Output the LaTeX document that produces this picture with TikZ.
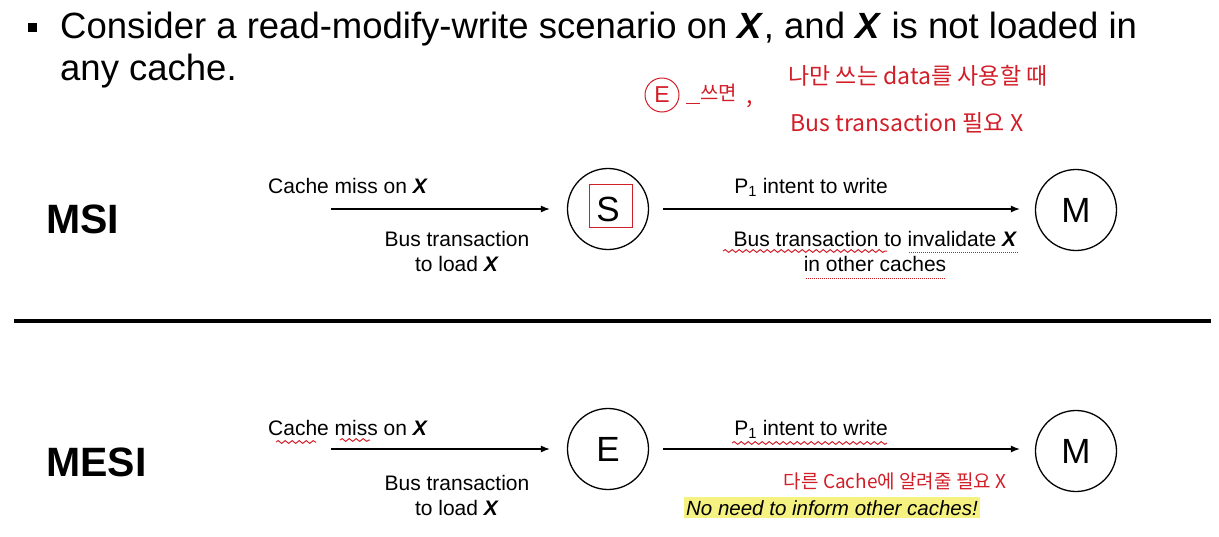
\documentclass[tikz,border=0pt]{standalone}
\usepackage{fontspec}
\setmainfont{Liberation Sans}
\newfontfamily\kor{Noto Sans CJK KR}
\usetikzlibrary{shapes.geometric,arrows.meta,decorations.pathmorphing}
\definecolor{ink}{RGB}{210,30,40}
\definecolor{hilite}{RGB}{245,242,130}
\newcommand{\bX}{\textbf{\textit{X}}}
\begin{document}
\begin{tikzpicture}[x=1pt,y=-1pt,
  state/.style={draw, line width=1.3pt, circle, inner sep=0pt, minimum size=81pt, font=\fontsize{35}{40}\selectfont},
  lbl/.style={font=\fontsize{21}{25}\selectfont, inner sep=0pt},
  trans/.style={-{Latex[length=9pt,width=7pt]}, line width=1.2pt},
  inkline/.style={draw=ink, line width=1pt},
  wavy/.style={ink, line width=1pt, decorate, decoration={snake, amplitude=1.4pt, segment length=7pt}},
  note/.style={text=ink, inner sep=0pt, font=\kor\fontsize{23}{27}\selectfont},
]
\useasboundingbox (0,0) rectangle (1219,536);
% title
\node[fill, minimum size=9pt, inner sep=0pt] (bul) at (32,27) {};
\node[anchor=base west, inner sep=0pt, font=\fontsize{36.5}{42}\selectfont] (t1) at (60,38) {Consider a read-modify-write scenario on \bX, and \bX\ is not loaded in};
\node[anchor=base west, inner sep=0pt, font=\fontsize{36.5}{42}\selectfont] (t2) at (60,80) {any cache.};
% handwritten notes (top)
\node[draw=ink, line width=1pt, circle, minimum size=34pt, inner sep=0pt, text=ink, font=\fontsize{23}{27}\selectfont] (ecirc) at (662,95) {E};
\node[note, anchor=base west, font=\kor\fontsize{20}{24}\selectfont] (n1) at (700,100) {쓰면};
\draw[inkline] (686,103) -- (700,103);
\node[note, anchor=base] (n2) at (750,103) {,};
\node[note, anchor=base] (n3) at (918,84) {나만 쓰는 data를 사용할 때};
\node[note, anchor=base] (n4) at (907,131) {Bus transaction 필요 X};
% section labels
\node[anchor=base west, inner sep=0pt, font=\bfseries\fontsize{41}{48}\selectfont] (msi) at (46,233) {MSI};
\node[anchor=base west, inner sep=0pt, font=\bfseries\fontsize{41}{48}\selectfont] (mesi) at (46,476) {MESI};
% separator
\draw[line width=4pt] (14,321) -- (1211,321);
% MSI row
\node[state] (S) at (608,209) {S};
\node[state] (M1) at (1076,210) {M};
\node[draw=ink, line width=0.8pt, minimum width=43pt, minimum height=43pt, inner sep=0pt] (Sbox) at (611,206) {};
\coordinate (a1) at (331,209);
\draw[trans, shorten >=17pt] (a1) -- (S.west);
\draw[trans, shorten <=14pt, shorten >=15pt] (S.east) -- (M1.west |- S.east);
\node[lbl, anchor=base west] (l1) at (268,193) {Cache miss on \bX};
\node[lbl, anchor=base] (l2) at (457,246) {Bus transaction};
\node[lbl, anchor=base] (l3) at (457,271) {to load \bX};
\node[lbl, anchor=base] (l4) at (811,193) {P\textsubscript{1} intent to write};
\node[lbl, anchor=base] (l5) at (875.5,246) {Bus transaction to invalidate \bX};
\node[lbl, anchor=base] (l6) at (875,271) {in other caches};
\draw[wavy] (723,251) -- (887,251);
\draw[ink, line width=1pt, densely dotted] (909,252) -- (1018,252);
\draw[ink, line width=1pt, densely dotted] (806,278) -- (946,278);
% MESI row
\node[state] (E) at (608,449) {E};
\node[state] (M2) at (1076,451) {M};
\coordinate (a2) at (331,449);
\draw[trans, shorten >=17pt] (a2) -- (E.west);
\draw[trans, shorten <=14pt, shorten >=15pt] (E.east) -- (M2.west |- E.east);
\node[lbl, anchor=base west] (m1) at (268,435) {Cache miss on \bX};
\node[lbl, anchor=base] (m2) at (457,490) {Bus transaction};
\node[lbl, anchor=base] (m3) at (457,515) {to load \bX};
\node[lbl, anchor=base] (m4) at (811,435) {P\textsubscript{1} intent to write};
\draw[wavy] (276,442) -- (316,442);
\draw[wavy] (340,440) -- (370,440);
\draw[wavy] (732,443) -- (887,443);
\node[note, anchor=base, font=\kor\fontsize{19}{23}\selectfont] (m5) at (895,488) {다른 Cache에 알려줄 필요 X};
\node[lbl, anchor=base, fill=hilite, inner xsep=2pt, inner ysep=3pt, font=\itshape\fontsize{20.5}{24}\selectfont] (m6) at (832,515) {No need to inform other caches!};
\end{tikzpicture}
\end{document}
